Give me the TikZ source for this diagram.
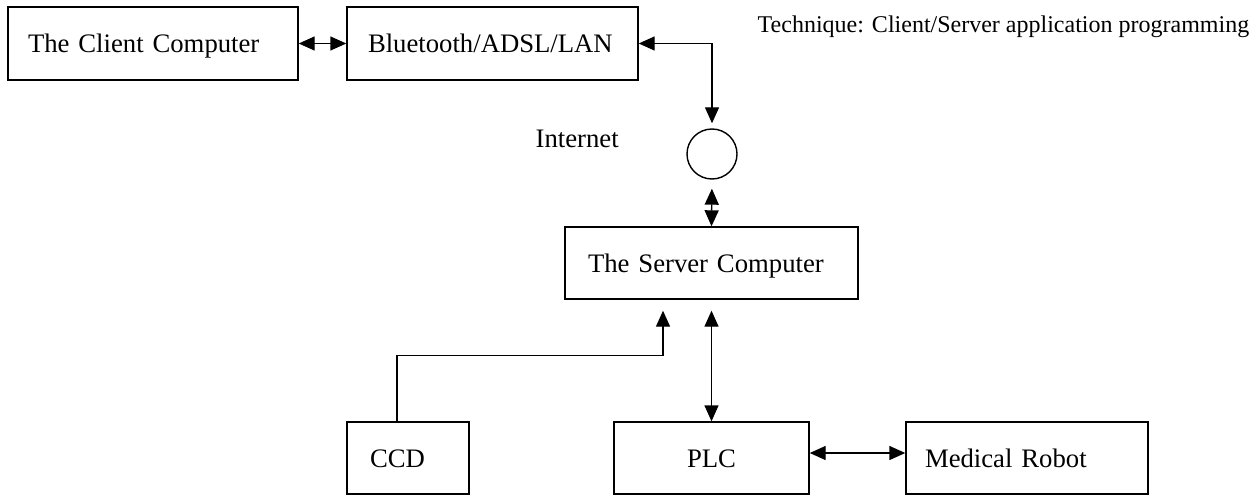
\documentclass[tikz,border=0pt]{standalone}
\usepackage{fontspec}
\setmainfont{Liberation Serif}
\usetikzlibrary{arrows.meta}
\begin{document}
\begin{tikzpicture}[x=1pt,y=-1pt,
  line width=1.4pt,
  darr/.style={{Triangle[length=16pt,width=14pt]}-{Triangle[length=16pt,width=14pt]}},
  sarr/.style={-{Triangle[length=16pt,width=14pt]}},
  lbl/.style={font=\fontsize{26.7}{32}\selectfont},
  box/.style={draw, lbl, inner ysep=0pt, text height=18pt, text depth=0pt, align=left},
]
\useasboundingbox (0,0) rectangle (1260,497);
% boxes: minimum width w, padding p -> text width = w-2p
\node[box, minimum height=73pt, text width=250pt, inner xsep=20pt] (client) at (153,43.5) {The Client Computer};
\node[box, minimum height=73pt, text width=249pt, inner xsep=21pt] (bt) at (492.5,43.5) {Bluetooth/ADSL/LAN};
\node[draw, circle, minimum size=50pt, inner sep=0pt] (inet) at (712,154) {};
\node[lbl, anchor=base west, inner sep=0pt] (inetlbl) at (535,148) {Internet};
\node[box, minimum height=72pt, text width=247pt, inner xsep=23pt] (server) at (711.5,263) {The Server Computer};
\node[box, minimum height=72pt, text width=76pt, inner xsep=23pt] (ccd) at (408,458) {CCD};
\node[box, minimum height=72pt, minimum width=195pt, align=center] (plc) at (711.5,458) {PLC};
\node[box, minimum height=72pt, text width=204pt, inner xsep=19pt] (robot) at (1027,458) {Medical Robot};
\node[anchor=base west, inner sep=0pt, font=\fontsize{24}{29}\selectfont] (tech) at (757,33) {Technique: Client/Server application programming};
% connectors
\draw[darr] (client.east) -- (bt.west);
\draw[darr, shorten >=5pt] (bt.east) -| (inet.north);
\draw[darr, shorten <=9pt] (inet.south) -- (server.north);
\draw[sarr] ([xshift=-11pt]ccd.north) -- ++(0,-66) -| ([xshift=-48.5pt,yshift=-11pt]server.south);
\draw[darr, shorten <=11pt] (server.south) -- (plc.north);
\draw[darr] ([yshift=5pt]plc.east) -- ([yshift=5pt]robot.west);
\end{tikzpicture}
\end{document}
